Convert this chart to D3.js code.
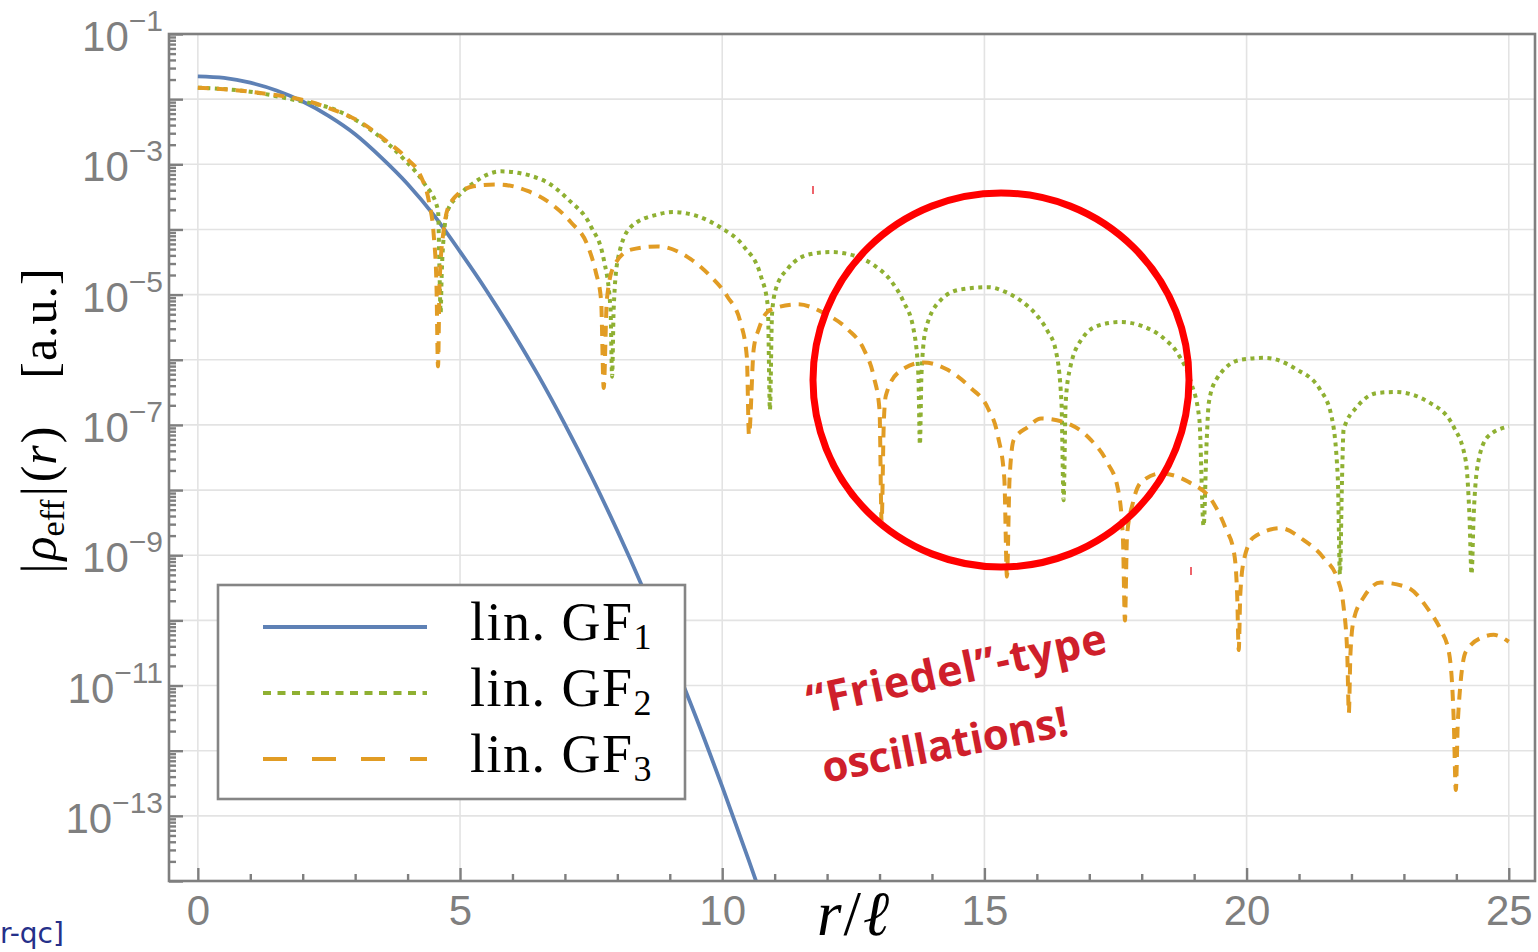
<!DOCTYPE html>
<html>
<head>
<meta charset="utf-8">
<script src="https://cdn.jsdelivr.net/npm/d3@7"></script>
<style>
body { margin: 0; background: #fff; }
svg { display: block; }
</style>
</head>
<body>
<svg id="figure"></svg>
<script>
// values: r / l and |rho_eff|(r)
var rGF1   = [0, 0.5, 1, 1.5, 2, 2.5, 3, 3.5, 4, 4.5, 5, 5.5, 6, 6.5, 7, 7.5, 8, 8.5, 9, 9.5, 10, 10.5, 10.8];
var rhoGF1 = [2.24e-2, 2.12e-2, 1.79e-2, 1.36e-2, 9.2e-3, 5.5e-3, 2.9e-3, 1.27e-3, 5.0e-4, 1.66e-4, 4.57e-5, 1.17e-5,
              2.7e-6, 5.6e-7, 1.02e-7, 1.66e-8, 2.37e-9, 2.99e-10, 3.3e-11, 3.26e-12, 2.8e-13, 2.15e-14, 4.4e-15];

var rGF2   = [0, 1, 1.77, 2.73, 3.36, 3.93, 4.31, 4.58, 4.61, 4.63, 4.65, 4.69, 4.77, 4.96, 5.26, 5.78, 6.54, 7.06,
              7.5, 7.74, 7.87, 7.9, 7.93, 8.01, 8.26, 8.77, 9.06, 9.97, 10.41, 10.74, 10.87, 10.91, 10.95, 11.02,
              11.25, 11.69, 12.07, 12.5, 12.9, 13.2, 13.45, 13.65, 13.74, 13.77, 13.8, 13.88, 14.17, 14.55, 15.08,
              15.4, 15.7, 16.0, 16.2, 16.36, 16.47, 16.51, 16.55, 16.63, 16.88, 17.2, 17.6, 18.0, 18.4, 18.7, 18.94,
              19.1, 19.18, 19.24, 19.28, 19.43, 19.89, 20.35, 20.94, 21.4, 21.62, 21.74, 21.78, 21.82, 21.85, 22.12,
              22.5, 22.84, 23.49, 23.95, 24.18, 24.25, 24.29, 24.33, 24.41, 24.6, 25];
var rhoGF2 = [1.5e-2, 1.3e-2, 1.0e-2, 6.3e-3, 3.1e-3, 1.2e-3, 5.2e-4, 2.0e-4, 2.0e-5, 5.2e-6, 2.0e-5, 8.0e-5, 2.0e-4,
              3.2e-4, 5.2e-4, 7.8e-4, 5.9e-4, 2.9e-4, 1.1e-4, 3.5e-5, 6.0e-6, 5.5e-7, 6.0e-6, 3.5e-5, 1.1e-4, 1.7e-4,
              1.85e-4, 1.07e-4, 5.5e-5, 1.9e-5, 6.6e-6, 1.7e-7, 5.0e-6, 1.2e-5, 2.5e-5, 4.2e-5, 4.5e-5, 4.0e-5,
              2.8e-5, 1.7e-5, 8.0e-6, 2.9e-6, 6.0e-7, 5.0e-8, 6.0e-7, 2.9e-6, 8.3e-6, 1.2e-5, 1.3e-5, 1.1e-5, 8.0e-6,
              4.8e-6, 2.8e-6, 1.4e-6, 2.2e-7, 7.0e-9, 2.2e-7, 7.2e-7, 2.2e-6, 3.4e-6, 3.8e-6, 3.3e-6, 2.2e-6, 1.2e-6,
              4.5e-7, 1.2e-7, 2.8e-9, 6.0e-8, 2.2e-7, 5.1e-7, 1.0e-6, 1.07e-6, 7.2e-7, 3.5e-7, 1.35e-7, 1.5e-8,
              5.1e-10, 1.5e-8, 8.5e-8, 1.95e-7, 3.1e-7, 3.2e-7, 2.2e-7, 9.3e-8, 2.8e-8, 4.0e-9, 5.1e-10, 4.0e-9,
              2.5e-8, 6.6e-8, 9.5e-8];

var rGF3   = [0, 1, 2.4, 3.17, 3.62, 4.0, 4.25, 4.41, 4.5, 4.55, 4.58, 4.61, 4.69, 4.82, 5.26, 5.72, 6.29, 6.73,
              7.11, 7.44, 7.59, 7.69, 7.74, 7.8, 7.93, 8.26, 8.77, 9.4, 9.78, 10.1, 10.35, 10.47, 10.51, 10.6, 10.7,
              10.93, 11.44, 11.94, 12.4, 12.7, 12.89, 13.0, 13.04, 13.08, 13.12, 13.37, 13.84, 14.3, 14.74, 15.06,
              15.26, 15.38, 15.43, 15.48, 15.56, 15.83, 16.08, 16.65, 17.03, 17.35, 17.54, 17.64, 17.68, 17.72, 17.83,
              17.98, 18.36, 18.88, 19.37, 19.6, 19.76, 19.82, 19.85, 19.88, 19.95, 20.14, 20.65, 21.09, 21.47, 21.74,
              21.85, 21.92, 21.95, 21.98, 22.04, 22.24, 22.56, 23.07, 23.47, 23.7, 23.86, 23.95, 23.99, 24.03, 24.18,
              24.52, 24.71, 25];
var rhoGF3 = [1.5e-2, 1.3e-2, 7.8e-3, 4.1e-3, 2.2e-3, 1.2e-3, 6.6e-4, 2.6e-4, 7.9e-5, 1.5e-5, 7.9e-7, 1.5e-5,
              1.0e-4, 2.6e-4, 4.6e-4, 4.9e-4, 3.9e-4, 2.5e-4, 1.3e-4, 5.5e-5, 2.2e-5, 8.3e-6, 3.7e-7, 8.3e-6, 2.7e-5,
              4.9e-5, 5.5e-5, 3.5e-5, 1.9e-5, 9.3e-6, 3.7e-6, 1.1e-6, 7.0e-8, 1.45e-6, 3.0e-6, 5.9e-6, 7.1e-6, 5.2e-6,
              2.9e-6, 1.45e-6, 5.5e-7, 1.7e-7, 3.2e-9, 1.0e-7, 2.8e-7, 6.5e-7, 9.1e-7, 7.0e-7, 3.7e-7, 1.85e-7,
              6.6e-8, 1.5e-8, 4.7e-10, 1.5e-8, 5.9e-8, 9.3e-8, 1.26e-7, 1.0e-7, 5.9e-8, 2.6e-8, 1.1e-8, 2.0e-9,
              1.0e-10, 2.0e-9, 6.3e-9, 1.3e-8, 1.8e-8, 1.35e-8, 6.3e-9, 2.6e-9, 1.1e-9, 2.5e-10, 3.5e-11, 2.5e-10,
              8.5e-10, 1.9e-9, 2.6e-9, 1.7e-9, 9.1e-10, 4.2e-10, 1.6e-10, 3.0e-11, 3.8e-12, 3.0e-11, 1.0e-10,
              2.3e-10, 3.8e-10, 3.2e-10, 1.45e-10, 7.2e-11, 3.2e-11, 3.0e-12, 2.5e-13, 3.0e-12, 3.3e-11, 5.6e-11,
              6.0e-11, 4.7e-11];

var seriesNames = ["1", "2", "3"];   // lin. GF subscripts
var xTicks = [0, 5, 10, 15, 20, 25];
var yLabelExps = [-1, -3, -5, -7, -9, -11, -13];

var fullWidth = 1538, fullHeight = 952;
var frame = {left: 169, right: 1535, top: 34, bottom: 881};
var axisGray = "#7f7f7f";

var svg = d3.select('#figure')
    .attr("width", fullWidth)
    .attr("height", fullHeight);

var xRange = d3.scaleLinear().domain([-0.55, 25.5]).range([frame.left, frame.right]);
var yRange = d3.scaleLog().domain([1e-14, 1e-1]).range([frame.bottom, frame.top]);

// grid
var decades = d3.range(-13, -1).map(function (e) { return Math.pow(10, e); });
svg.append("g").selectAll("line").data(decades).enter().append("line")
    .attr("x1", frame.left).attr("x2", frame.right)
    .attr("y1", function (d) { return yRange(d); }).attr("y2", function (d) { return yRange(d); })
    .attr("stroke", "#e3e3e3").attr("stroke-width", 1.6);
svg.append("g").selectAll("line").data(xTicks).enter().append("line")
    .attr("y1", frame.top).attr("y2", frame.bottom)
    .attr("x1", function (d) { return xRange(d); }).attr("x2", function (d) { return xRange(d); })
    .attr("stroke", "#e3e3e3").attr("stroke-width", 1.6);

// curves
svg.append("clipPath").attr("id", "plotclip").append("rect")
    .attr("x", frame.left).attr("y", frame.top)
    .attr("width", frame.right - frame.left).attr("height", frame.bottom - frame.top);

var line = d3.line()
    .x(function (d) { return xRange(d[0]); })
    .y(function (d) { return yRange(d[1]); })
    .curve(d3.curveMonotoneX);

var plotG = svg.append("g").attr("clip-path", "url(#plotclip)");
plotG.append("path").attr("d", line(d3.zip(rGF1, rhoGF1)))
    .attr("fill", "none").attr("stroke", "#5e81b5").attr("stroke-width", 3.8);
plotG.append("path").attr("d", line(d3.zip(rGF2, rhoGF2)))
    .attr("fill", "none").attr("stroke", "#8fb032").attr("stroke-width", 4)
    .attr("stroke-dasharray", "4,4.5");
plotG.append("path").attr("d", line(d3.zip(rGF3, rhoGF3)))
    .attr("fill", "none").attr("stroke", "#e19c24").attr("stroke-width", 4)
    .attr("stroke-dasharray", "11,8");

// axes (ticks point inwards)
var minorX = d3.range(0, 26).filter(function (v) { return v % 5 !== 0; });
var minorY = [];
for (var e = -14; e < -1; e++) {
    for (var k = 2; k < 10; k++) minorY.push(k * Math.pow(10, e));
}

var xAxis = d3.axisBottom(xRange).tickValues(xTicks).tickSizeInner(-13).tickSizeOuter(0).tickPadding(14);
var xMinor = d3.axisBottom(xRange).tickValues(minorX).tickSizeInner(-7).tickSizeOuter(0).tickFormat("");
var yAxis = d3.axisLeft(yRange).tickValues(decades.concat([1e-14, 1e-1])).tickSizeInner(-14).tickSizeOuter(0).tickPadding(6).tickFormat("");
var yMinor = d3.axisLeft(yRange).tickValues(minorY).tickSizeInner(-7).tickSizeOuter(0).tickFormat("");

var gx = svg.append("g").attr("transform", "translate(0," + frame.bottom + ")").call(xAxis);
svg.append("g").attr("transform", "translate(0," + frame.bottom + ")").call(xMinor);
svg.append("g").attr("transform", "translate(" + frame.left + ",0)").call(yAxis);
svg.append("g").attr("transform", "translate(" + frame.left + ",0)").call(yMinor);

svg.selectAll(".domain").remove();
svg.selectAll(".tick line").attr("stroke", axisGray).attr("stroke-width", 2.4);
gx.selectAll("text").attr("font-size", 42).attr("font-family", "Liberation Sans, Arial, sans-serif").attr("fill", axisGray);

// y labels 10^odd
var yLab = svg.append("g").attr("font-family", "Liberation Sans, Arial, sans-serif").attr("fill", axisGray);
yLabelExps.forEach(function (ex) {
    var t = yLab.append("text").attr("x", 163).attr("y", yRange(Math.pow(10, ex)) + 17)
        .attr("text-anchor", "end").attr("font-size", 42);
    t.append("tspan").text("10");
    t.append("tspan").attr("dy", -20).attr("font-size", 30).text("\u2212" + Math.abs(ex));
});

// frame
svg.append("rect").attr("x", frame.left).attr("y", frame.top)
    .attr("width", frame.right - frame.left).attr("height", frame.bottom - frame.top)
    .attr("fill", "none").attr("stroke", axisGray).attr("stroke-width", 2.6);

// axis titles
var serif = "Liberation Serif, Times New Roman, serif";
var xt = svg.append("text").attr("x", 817).attr("y", 935).attr("font-family", serif).attr("font-size", 63);
xt.append("tspan").attr("font-style", "italic").text("r");
xt.append("tspan").attr("dx", 2).text("/");
xt.append("tspan").attr("font-style", "italic").attr("dx", 2).text("\u2113");

var yt = svg.append("g").attr("transform", "translate(56,0) rotate(-90)")
    .attr("font-family", serif).attr("font-size", 50);
var yt1 = yt.append("text").attr("x", -500).attr("text-anchor", "middle");
yt1.append("tspan").text("|");
yt1.append("tspan").attr("font-style", "italic").attr("dx", 3).text("\u03c1");
yt1.append("tspan").attr("font-size", 34).attr("dy", 8).text("eff");
yt1.append("tspan").attr("dy", -8).attr("dx", 3).text("|");
yt1.append("tspan").attr("dx", 4).text("(");
yt1.append("tspan").attr("font-style", "italic").attr("dx", 1).text("r");
yt1.append("tspan").attr("dx", 2).text(")");
yt.append("text").attr("x", -323).attr("text-anchor", "middle").attr("letter-spacing", 1).text("[a.u.]");

// legend
var legend = svg.append("g");
legend.append("rect").attr("x", 218).attr("y", 585).attr("width", 467).attr("height", 214)
    .attr("fill", "#fff").attr("stroke", "#858585").attr("stroke-width", 2.6);
var legendStyles = [
    {color: "#5e81b5", dash: null, width: 4},
    {color: "#8fb032", dash: "8,6.5", width: 4},
    {color: "#e19c24", dash: "24,25", width: 4}
];
seriesNames.forEach(function (s, i) {
    var ly = 627 + i * 66;
    legend.append("line").attr("x1", 263).attr("x2", 427).attr("y1", ly).attr("y2", ly)
        .attr("stroke", legendStyles[i].color).attr("stroke-width", legendStyles[i].width)
        .attr("stroke-dasharray", legendStyles[i].dash);
    var lt = legend.append("text").attr("x", 470).attr("y", ly + 13)
        .attr("font-family", serif).attr("font-size", 54).attr("letter-spacing", 1.5);
    lt.append("tspan").text("lin. GF");
    lt.append("tspan").attr("font-size", 36).attr("dy", 9).text(s);
});

// annotation
var red = "#cf1f2b";
svg.append("text").attr("transform", "translate(810,716) rotate(-12)")
    .attr("font-family", "Open Sans, sans-serif").attr("font-weight", 700).attr("font-size", 43)
    .attr("fill", red).attr("letter-spacing", 0.8).text("\u201cFriedel\u201d-type");
svg.append("text").attr("transform", "translate(825,783) rotate(-11)")
    .attr("font-family", "Open Sans, sans-serif").attr("font-weight", 700).attr("font-size", 42)
    .attr("fill", red).text("oscillations!");

svg.append("ellipse").attr("cx", 1001).attr("cy", 380).attr("rx", 188).attr("ry", 187)
    .attr("fill", "none").attr("stroke", "#ff0000").attr("stroke-width", 7);
svg.append("line").attr("x1", 813).attr("x2", 813).attr("y1", 186).attr("y2", 194)
    .attr("stroke", "#e8303a").attr("stroke-width", 1.5);
svg.append("line").attr("x1", 1191).attr("x2", 1191).attr("y1", 567).attr("y2", 575)
    .attr("stroke", "#e8303a").attr("stroke-width", 1.5);

svg.append("text").attr("x", 0).attr("y", 943)
    .attr("font-family", "DejaVu Sans, sans-serif").attr("font-size", 28).attr("fill", "#25308a")
    .text("r-qc]");
</script>
</body>
</html>
